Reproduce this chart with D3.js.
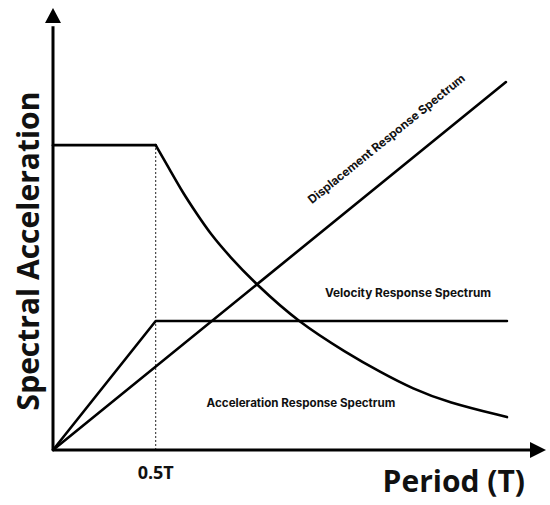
<!DOCTYPE html>
<html>
<head>
<meta charset="utf-8">
<script src="https://cdn.jsdelivr.net/npm/d3@7"></script>
<style>
    body { margin: 0; background: #fff; }
    text { font-family: Inter, "Noto Sans", sans-serif; font-weight: 700; fill: #111; }
    .title { font-family: "Open Sans", "Noto Sans", sans-serif; font-weight: 700; }
</style>
</head>
<body>
<div id="chart"></div>
<script>
'use strict'

// acceleration response spectrum (plateau, then decaying)
const accT  = [0, 0.5, 0.57, 0.633, 0.701, 0.764, 0.862, 0.993, 1.193, 1.431, 1.592, 1.753, 1.918, 2.21];
const accSa = [1.0, 1.0, 0.918, 0.843, 0.774, 0.711, 0.633, 0.541, 0.42, 0.318, 0.256, 0.2, 0.157, 0.108];

// velocity response spectrum
const velT  = [0, 0.5, 2.21];
const velSa = [0, 0.423, 0.423];

// displacement response spectrum
const dispT  = [0, 2.205];
const dispSa = [0, 1.207];

const tickValues = [0.5];
const tickLabels = ['0.5T'];

const width = 550;
const height = 505;

const x = d3.scaleLinear().domain([0, 2.4]).range([53, 546]);
const y = d3.scaleLinear().domain([0, 1.45]).range([450, 8]);

const svg = d3.select('#chart')
    .append('svg')
    .attr('width', width)
    .attr('height', height);

const toPoints = (ts, vs) => ts.map((t, i) => [t, vs[i]]);

const line = d3.line()
    .x(d => x(d[0]))
    .y(d => y(d[1]));

// dotted guide at 0.5T
svg.append('line')
    .attr('x1', x(0.5)).attr('x2', x(0.5))
    .attr('y1', y(0)).attr('y2', y(1.0))
    .attr('stroke', '#222')
    .attr('stroke-width', 1)
    .attr('stroke-dasharray', '2,2');

// axes
svg.append('line')
    .attr('x1', x(0)).attr('x2', x(2.33))
    .attr('y1', y(0)).attr('y2', y(0))
    .attr('stroke', '#000').attr('stroke-width', 3);
svg.append('line')
    .attr('x1', x(0)).attr('x2', x(0))
    .attr('y1', y(0)).attr('y2', y(1.39))
    .attr('stroke', '#000').attr('stroke-width', 3);

// arrow heads
const xEnd = x(2.4), yEnd = y(1.45);
svg.append('path')
    .attr('d', `M${xEnd},${y(0)} L${xEnd - 16},${y(0) - 8} L${xEnd - 16},${y(0) + 8} Z`)
    .attr('fill', '#000');
svg.append('path')
    .attr('d', `M${x(0)},${yEnd} L${x(0) - 8},${yEnd + 15} L${x(0) + 8},${yEnd + 15} Z`)
    .attr('fill', '#000');

// spectra - plateau and decay of the acceleration curve drawn separately so the corner stays sharp
const curves = [
    { pts: toPoints(accT.slice(0, 2), accSa.slice(0, 2)), curve: d3.curveLinear },
    { pts: toPoints(accT.slice(1), accSa.slice(1)), curve: d3.curveBasis },
    { pts: toPoints(velT, velSa), curve: d3.curveLinear },
    { pts: toPoints(dispT, dispSa), curve: d3.curveLinear },
];

svg.selectAll('.spectrum')
    .data(curves)
    .enter().append('path')
    .attr('class', 'spectrum')
    .attr('d', d => line.curve(d.curve)(d.pts))
    .attr('fill', 'none')
    .attr('stroke', '#000')
    .attr('stroke-width', 2.6)
    .attr('stroke-linejoin', 'round')
    .attr('stroke-linecap', 'round');

// tick label
svg.selectAll('.tick-label')
    .data(tickValues)
    .enter().append('text')
    .attr('class', 'tick-label title')
    .attr('x', d => x(d))
    .attr('y', 479)
    .attr('text-anchor', 'middle')
    .style('font-size', '18px')
    .text((d, i) => tickLabels[i]);

// axis titles
svg.append('text')
    .attr('class', 'title')
    .attr('x', 525)
    .attr('y', 492)
    .attr('text-anchor', 'end')
    .style('font-size', '30px')
    .text('Period (T)');

svg.append('text')
    .attr('class', 'title')
    .attr('transform', 'translate(39,251) rotate(-90)')
    .attr('text-anchor', 'middle')
    .style('font-size', '30px')
    .text('Spectral Acceleration');

// series labels
svg.append('text')
    .attr('x', 408)
    .attr('y', 297)
    .attr('text-anchor', 'middle')
    .style('font-size', '11.8px')
    .text('Velocity Response Spectrum');

svg.append('text')
    .attr('x', 301)
    .attr('y', 407)
    .attr('text-anchor', 'middle')
    .style('font-size', '11.6px')
    .text('Acceleration Response Spectrum');

svg.append('text')
    .attr('transform', 'translate(389,142) rotate(-39)')
    .attr('text-anchor', 'middle')
    .style('font-size', '11.8px')
    .text('Displacement Response Spectrum');
</script>
</body>
</html>
